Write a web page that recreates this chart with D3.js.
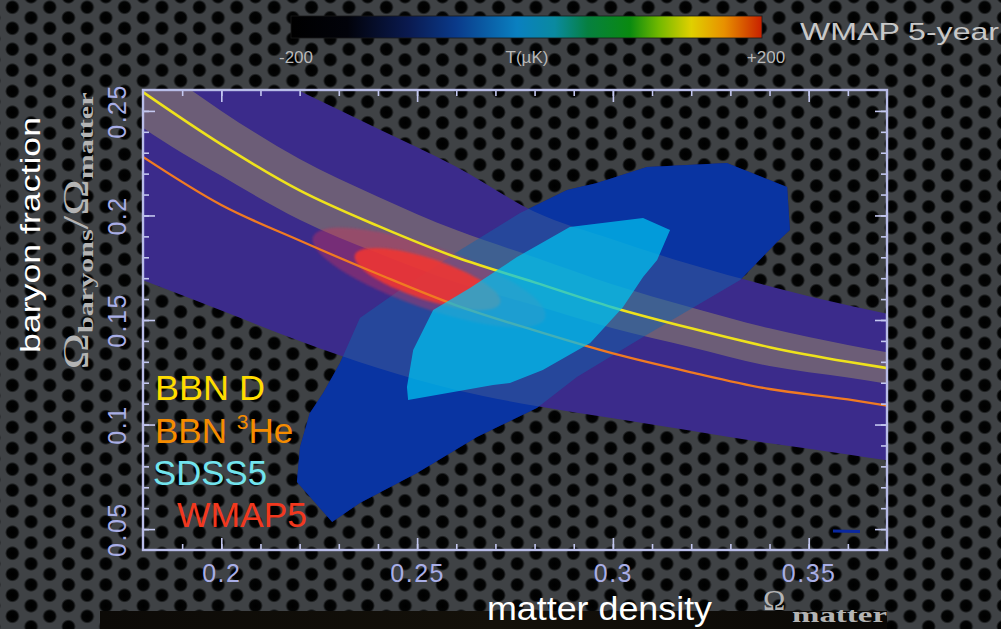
<!DOCTYPE html>
<html><head><meta charset="utf-8">
<script src="https://cdn.jsdelivr.net/npm/d3@7"></script>
<style>html,body{margin:0;padding:0;background:#3a3d40;overflow:hidden}</style>
</head><body><svg id="c" width="1001" height="629"></svg>
<script>
// ---------------- data ----------------
const omegaGrid      = [0.17, 0.18, 0.20, 0.22, 0.24, 0.26, 0.28, 0.30, 0.32, 0.34, 0.36, 0.375];
const wmapOuterUpper = [0.306,0.296,0.278,0.2595,0.2415,0.2233,0.2018,0.1885,0.1765,0.1662,0.1570,0.1510];
const wmapOuterLower = [0.176,0.169,0.1545,0.140,0.127,0.1165,0.109,0.103,0.097,0.091,0.0857,0.0815];
const bbnBandUpper   = [0.292,0.277,0.250,0.227,0.209,0.193,0.180,0.167,0.156,0.146,0.138,0.133];
const bbnBandLower   = [0.256,0.242,0.219,0.198,0.182,0.168,0.157,0.146,0.137,0.128,0.1225,0.118];

const lineGrid = [0.18, 0.20, 0.22, 0.24, 0.26, 0.28, 0.30, 0.32, 0.34, 0.36, 0.37];
const bbnD     = [0.259,0.234,0.212,0.195,0.180,0.168,0.156,0.146,0.137,0.130,0.127];
const bbnHe3   = [0.228,0.205,0.188,0.172,0.157,0.145,0.134,0.125,0.117,0.112,0.109];

const sdssOuter = [[0.2283,0.0534],[0.2193,0.0725],[0.2201,0.0893],[0.2226,0.1055],[0.2260,0.1151],
  [0.2303,0.1294],[0.2354,0.1510],[0.2456,0.1643],[0.2610,0.1835],[0.2763,0.2012],[0.2883,0.2122],
  [0.2959,0.2155],[0.3087,0.2232],[0.3291,0.2251],[0.3445,0.2136],[0.3452,0.1930],[0.3419,0.1873],
  [0.3325,0.1691],[0.3077,0.1419],[0.2908,0.1227],[0.2806,0.1079],[0.2653,0.0940],[0.2500,0.0768],
  [0.2354,0.0625]];
const sdssInner = [[0.2477,0.1117],[0.2474,0.1180],[0.2490,0.1357],[0.2541,0.1548],[0.2635,0.1653],
  [0.2755,0.1801],[0.2890,0.1945],[0.3077,0.1988],[0.3146,0.1930],[0.3113,0.1787],[0.3077,0.1706],
  [0.3026,0.1562],[0.2942,0.1390],[0.2821,0.1261],[0.2737,0.1199],[0.2694,0.1189]];
const sdssFragment = [[0.3562,0.0491],[0.3631,0.0489]];

// WMAP5 contours: ends of the long axis, and short/long axis ratio
const wmapOuterEllipse = {ends: [[0.2234,0.1897],[0.2827,0.1510]], ratio: 0.25};
const wmapInnerEllipse = {ends: [[0.2341,0.1811],[0.2712,0.1581]], ratio: 0.27};

const xMajorTicks = [0.2, 0.25, 0.3, 0.35];
const xTickLabels = ["0.2", "0.25", "0.3", "0.35"];
const xMinorTicks = [0.19,0.20,0.21,0.22,0.23,0.24,0.25,0.26,0.27,0.28,0.29,0.30,0.31,0.32,0.33,0.34,0.35,0.36];
const yMajorTicks = [0.05, 0.1, 0.15, 0.2, 0.25];
const yTickLabels = ["0.05", "0.1", "0.15", "0.2", "0.25"];
const yMinorTicks = [0.05,0.06,0.07,0.08,0.09,0.10,0.11,0.12,0.13,0.14,0.15,0.16,0.17,0.18,0.19,0.20,0.21,0.22,0.23,0.24,0.25];

const legendNames = ["BBN D", "BBN ", "SDSS5", "WMAP5"];
const colorbarLabels = ["-200", "T(µK)", "+200"];
const colorbarTitle = "WMAP 5-year";

// ---------------- drawing ----------------
const W = 1001, H = 629;
const svg = d3.select("#c");
const defs = svg.append("defs");
const SANS = "'Liberation Sans', Arial, Helvetica, sans-serif";
const SERIF = "'Liberation Serif', 'DejaVu Serif', serif";

// perforated metal background
const base = "#3f4245";
const rg = defs.append("radialGradient").attr("id", "hg");
rg.append("stop").attr("offset", "0%").attr("stop-color", "#000");
rg.append("stop").attr("offset", "72%").attr("stop-color", "#030404");
rg.append("stop").attr("offset", "100%").attr("stop-color", base);
const pat = defs.append("pattern").attr("id", "holes").attr("patternUnits", "userSpaceOnUse")
  .attr("width", 37.4).attr("height", 21).attr("x", 3).attr("y", 2);
pat.append("rect").attr("width", 37.4).attr("height", 21).attr("fill", base);
[[9.35,5.25],[9.35,26.25],[28.05,15.75],[28.05,-5.25]].forEach(p =>
  pat.append("circle").attr("cx", p[0]).attr("cy", p[1]).attr("r", 7.4).attr("fill", "url(#hg)"));
svg.append("rect").attr("width", W).attr("height", H).attr("fill", "url(#holes)");

// bottom photo strip
const sg = defs.append("linearGradient").attr("id", "strip");
sg.append("stop").attr("offset", "0%").attr("stop-color", "#0c0a07");
sg.append("stop").attr("offset", "50%").attr("stop-color", "#14110a");
sg.append("stop").attr("offset", "100%").attr("stop-color", "#0a0806");
svg.append("rect").attr("x", 100).attr("y", 611).attr("width", 787).attr("height", 18).attr("fill", "url(#strip)");

// scales
const x = d3.scaleLinear().domain([0.18, 0.37]).range([143, 887]);
const y = d3.scaleLinear().domain([0.04, 0.26]).range([550, 90]);

defs.append("clipPath").attr("id", "plotclip").append("rect")
  .attr("x", 143).attr("y", 90).attr("width", 744).attr("height", 460);
defs.append("filter").attr("id", "soft").append("feGaussianBlur").attr("stdDeviation", 1.3);

const plot = svg.append("g").attr("clip-path", "url(#plotclip)");

const poly = d3.line().x(d => x(d[0])).y(d => y(d[1])).curve(d3.curveLinearClosed);
const band = (lo, hi) => d3.area().x((d, i) => x(omegaGrid[i])).y0((d, i) => y(lo[i])).y1((d, i) => y(hi[i]))
  .curve(d3.curveMonotoneX)(omegaGrid);

// SDSS outer base (opaque)
plot.append("path").attr("d", poly(sdssOuter)).attr("fill", "rgb(0,4,152)");
plot.append("path").attr("d", poly(sdssFragment)).attr("stroke", "rgb(10,40,160)").attr("stroke-width", 3).attr("fill", "none");
// WMAP broad region
plot.append("path").attr("d", band(wmapOuterLower, wmapOuterUpper)).attr("fill", "#3b2b8b");
// BBN D band
plot.append("path").attr("d", band(bbnBandLower, bbnBandUpper)).attr("fill", "rgba(168,155,95,0.45)");
// SDSS outer overlay
plot.append("path").attr("d", poly(sdssOuter)).attr("fill", "rgba(18,100,172,0.5)");

// WMAP5 ellipses
function ellipse(e, fill) {
  const p0 = [x(e.ends[0][0]), y(e.ends[0][1])], p1 = [x(e.ends[1][0]), y(e.ends[1][1])];
  const cx = (p0[0] + p1[0]) / 2, cy = (p0[1] + p1[1]) / 2;
  const a = Math.hypot(p1[0] - p0[0], p1[1] - p0[1]) / 2;
  const ang = Math.atan2(p1[1] - p0[1], p1[0] - p0[0]) * 180 / Math.PI;
  plot.append("ellipse").attr("cx", cx).attr("cy", cy).attr("rx", a).attr("ry", a * e.ratio)
    .attr("transform", `rotate(${ang},${cx},${cy})`).attr("fill", fill).attr("filter", "url(#soft)");
}
ellipse(wmapOuterEllipse, "rgba(215,45,85,0.38)");
ellipse(wmapInnerEllipse, "rgba(240,55,50,0.88)");

// BBN lines
const ln = d3.line().x((d, i) => x(lineGrid[i])).y(d => y(d)).curve(d3.curveMonotoneX);
plot.append("path").attr("d", ln(bbnHe3)).attr("fill", "none").attr("stroke", "#f07a22").attr("stroke-width", 2.3);
plot.append("path").attr("d", ln(bbnD)).attr("fill", "none").attr("stroke", "#eee21c").attr("stroke-width", 2.6);

// SDSS inner
plot.append("path").attr("d", poly(sdssInner)).attr("fill", "rgba(0,195,240,0.72)");

// axes
const tickCol = "#c4c8f0";
function styleAxis(g) {
  g.select(".domain").remove();
  g.selectAll(".tick line").attr("stroke", tickCol).attr("stroke-width", 1.6);
  g.selectAll("text").attr("fill", "#a9aee6").attr("font-family", SANS).attr("font-size", 25)
    .attr("letter-spacing", 1.5);
}
const axes = svg.append("g");
axes.append("g").attr("transform", "translate(0,550)")
  .call(d3.axisBottom(x).tickValues(xMinorTicks).tickSize(-6).tickFormat("")).call(styleAxis);
axes.append("g").attr("transform", "translate(0,550)")
  .call(d3.axisBottom(x).tickValues(xMajorTicks).tickSize(-12).tickPadding(14)
    .tickFormat((d, i) => xTickLabels[i])).call(styleAxis);
axes.append("g").attr("transform", "translate(0,90)")
  .call(d3.axisTop(x).tickValues(xMinorTicks).tickSize(-6).tickFormat("")).call(styleAxis);
axes.append("g").attr("transform", "translate(0,90)")
  .call(d3.axisTop(x).tickValues(xMajorTicks).tickSize(-12).tickFormat("")).call(styleAxis);
axes.append("g").attr("transform", "translate(143,0)")
  .call(d3.axisLeft(y).tickValues(yMinorTicks).tickSize(-6).tickFormat("")).call(styleAxis);
const yl = axes.append("g").attr("transform", "translate(143,0)")
  .call(d3.axisLeft(y).tickValues(yMajorTicks).tickSize(-12).tickFormat((d, i) => yTickLabels[i])).call(styleAxis);
yl.selectAll("text").attr("x", 0).attr("y", -17).attr("dy", 0).attr("text-anchor", "middle")
  .attr("transform", "rotate(-90)");
axes.append("g").attr("transform", "translate(887,0)")
  .call(d3.axisRight(y).tickValues(yMinorTicks).tickSize(-6).tickFormat("")).call(styleAxis);
axes.append("g").attr("transform", "translate(887,0)")
  .call(d3.axisRight(y).tickValues(yMajorTicks).tickSize(-12).tickFormat("")).call(styleAxis);
axes.append("rect").attr("x", 143).attr("y", 90).attr("width", 744).attr("height", 460)
  .attr("fill", "none").attr("stroke", "#b8bce8").attr("stroke-width", 2.4);

// legend
const lg = svg.append("g").attr("font-family", SANS).attr("font-size", 35);
lg.append("text").attr("x", 155).attr("y", 400).attr("fill", "#ffdc00").attr("textLength", 110)
  .attr("lengthAdjust", "spacingAndGlyphs").text(legendNames[0]);
const he = lg.append("text").attr("x", 155).attr("y", 443).attr("fill", "#f58c00");
he.append("tspan").text(legendNames[1]);
he.append("tspan").attr("font-size", 21).attr("dy", -14).text("3");
he.append("tspan").attr("dy", 14).text("He");
lg.append("text").attr("x", 153).attr("y", 485).attr("fill", "#72e4ee").attr("textLength", 114)
  .attr("lengthAdjust", "spacingAndGlyphs").text(legendNames[2]);
lg.append("text").attr("x", 177).attr("y", 527).attr("fill", "#f2381e").attr("textLength", 130)
  .attr("lengthAdjust", "spacingAndGlyphs").text(legendNames[3]);

// y title
svg.append("text").attr("transform", "translate(40,235) rotate(-90)").attr("text-anchor", "middle")
  .attr("font-family", SANS).attr("font-size", 27).attr("fill", "#ffffff")
  .attr("textLength", 236).attr("lengthAdjust", "spacingAndGlyphs").text("baryon fraction");
const om = svg.append("text").attr("transform", "translate(88,231) rotate(-90)").attr("text-anchor", "middle")
  .attr("font-family", SERIF).attr("fill", "#b4b4b4").attr("textLength", 277).attr("lengthAdjust", "spacingAndGlyphs");
om.append("tspan").attr("font-size", 36).text("Ω");
om.append("tspan").attr("font-size", 22).attr("font-weight", "bold").attr("dy", 5).text("baryons");
om.append("tspan").attr("font-size", 36).attr("dy", -5).text("/Ω");
om.append("tspan").attr("font-size", 22).attr("font-weight", "bold").attr("dy", 5).text("matter");

// x title
svg.append("text").attr("x", 487).attr("y", 620).attr("font-family", SANS).attr("font-size", 33)
  .attr("fill", "#ffffff").attr("textLength", 225).attr("lengthAdjust", "spacingAndGlyphs").text("matter density");
svg.append("text").attr("x", 763).attr("y", 610).attr("font-family", SERIF).attr("font-size", 30)
  .attr("fill", "#b4b4b4").text("Ω");
svg.append("text").attr("x", 792).attr("y", 622).attr("font-family", SERIF).attr("font-size", 21)
  .attr("font-weight", "bold").attr("fill", "#b4b4b4").attr("textLength", 95)
  .attr("lengthAdjust", "spacingAndGlyphs").text("matter");

// colour bar
const cg = defs.append("linearGradient").attr("id", "cbar");
[[0,"#000000"],[0.12,"#02030a"],[0.25,"#0a1a50"],[0.35,"#0a3a8a"],[0.48,"#0a80c0"],[0.56,"#0a8aa0"],
 [0.63,"#068040"],[0.72,"#0a8a10"],[0.78,"#70b800"],[0.85,"#e0d000"],[0.92,"#e89000"],[1,"#c82000"]]
  .forEach(s => cg.append("stop").attr("offset", s[0]).attr("stop-color", s[1]));
svg.append("rect").attr("x", 291).attr("y", 16).attr("width", 471).attr("height", 22)
  .attr("fill", "url(#cbar)").attr("stroke", "#1a1a1a").attr("stroke-width", 0.8);
const cbx = d3.scaleLinear().domain([-200, 200]).range([296, 766]);
const cbt = svg.append("g").attr("font-family", SANS).attr("font-size", 17).attr("fill", "#b8b8b8")
  .attr("text-anchor", "middle");
cbt.append("text").attr("x", cbx(-200)).attr("y", 63).text(colorbarLabels[0]);
cbt.append("text").attr("x", cbx(0) - 4).attr("y", 63).text(colorbarLabels[1]);
cbt.append("text").attr("x", cbx(200)).attr("y", 63).text(colorbarLabels[2]);
svg.append("text").attr("x", 800).attr("y", 40).attr("font-family", SANS).attr("font-size", 24)
  .attr("fill", "#c8c8c8").attr("textLength", 199).attr("lengthAdjust", "spacingAndGlyphs").text(colorbarTitle);
</script>
</body></html>
